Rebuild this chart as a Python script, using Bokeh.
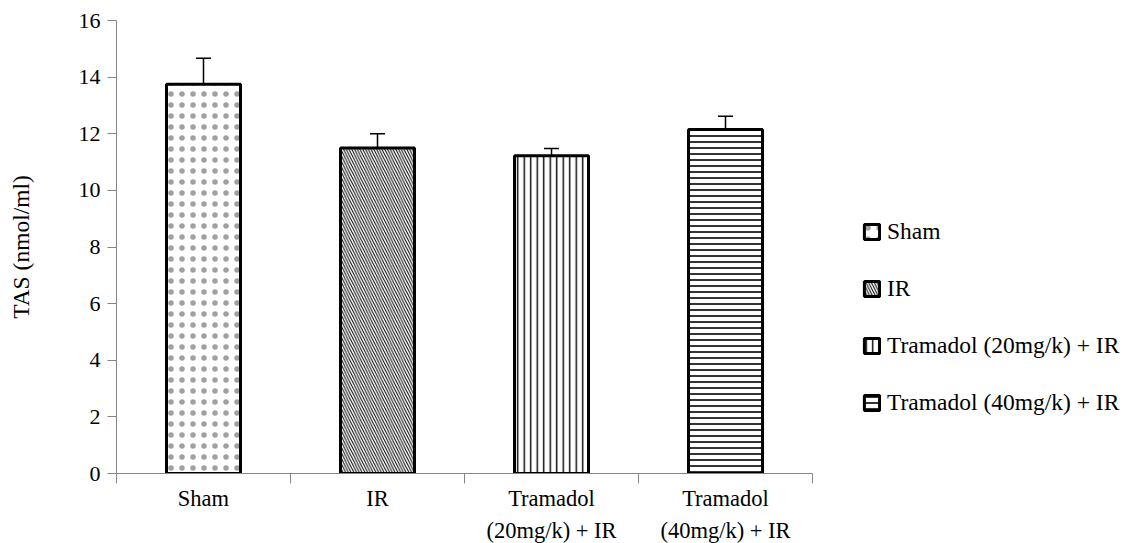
import numpy as np
from bokeh.plotting import figure
from bokeh.models import Range1d, FixedTicker, Whisker, ColumnDataSource, Legend, LegendItem, TeeHead
from bokeh.embed import file_html
from bokeh.resources import INLINE

# ---- data ----
categories = ["Sham", "IR", "Tramadol (20mg/k) + IR", "Tramadol (40mg/k) + IR"]
tick_labels = ["Sham", "IR", "Tramadol\n(20mg/k) + IR", "Tramadol\n(40mg/k) + IR"]
means = [13.75, 11.5, 11.22, 12.15]
errors = [0.92, 0.5, 0.26, 0.47]
y_ticks = [0, 2, 4, 6, 8, 10, 12, 14, 16]
y_label = "TAS (nmol/ml)"

# ---- styles ----
FONT = "Liberation Serif"
AXIS_GRAY = "#868686"
patterns = ["dot", "left_diagonal_line", "vertical_line", "horizontal_line"]
hatch_scales = [11, 5.5, 6.5, 6]
hatch_weights = [0.5, 1.0, 1.4, 1.6]
hatch_colors = ["#a0a0a0", "black", "black", "black"]

n = len(categories)
x_pos = np.arange(n) + 0.5

p = figure(frame_width=696, frame_height=453, x_range=Range1d(0, n), y_range=Range1d(0, 16),
           output_backend="svg", toolbar_location=None,
           min_border_left=116, min_border_top=20, min_border_right=0, min_border_bottom=0)
p.outline_line_color = None
p.xgrid.grid_line_color = None
p.ygrid.grid_line_color = None

items = []
for i in range(n):
    src = ColumnDataSource(dict(x=[x_pos[i]], top=[means[i]]))
    r = p.vbar(x="x", top="top", bottom=0, width=0.425, source=src,
               fill_color="white", line_color="black", line_width=3,
               hatch_pattern=patterns[i], hatch_scale=hatch_scales[i],
               hatch_weight=hatch_weights[i], hatch_color=hatch_colors[i])
    items.append(LegendItem(label=categories[i], renderers=[r]))

esrc = ColumnDataSource(dict(x=list(x_pos),
                             upper=[m + e for m, e in zip(means, errors)],
                             lower=[m - e for m, e in zip(means, errors)]))
w = Whisker(base="x", upper="upper", lower="lower", source=esrc,
            line_color="black", line_width=1.5,
            upper_head=TeeHead(size=15, line_width=1.5, line_color="black"),
            lower_head=TeeHead(size=15, line_width=1.5, line_color="black"))
p.add_layout(w)

# x axis: labels at centres, ticks at category boundaries
xa = p.xaxis[0]
xa.ticker = FixedTicker(ticks=list(x_pos), minor_ticks=list(range(n + 1)))
xa.major_label_overrides = {float(x): lab for x, lab in zip(x_pos, tick_labels)}
xa.major_tick_out = 0
xa.major_tick_in = 0
xa.minor_tick_out = 10
xa.minor_tick_in = 0
xa.minor_tick_line_color = AXIS_GRAY
xa.axis_line_color = AXIS_GRAY
xa.major_label_text_font = FONT
xa.major_label_text_font_size = "22.5px"
xa.major_label_text_color = "black"
xa.major_label_text_line_height = 1.3
xa.major_label_standoff = 2

ya = p.yaxis[0]
ya.ticker = FixedTicker(ticks=y_ticks, minor_ticks=[])
ya.axis_line_color = AXIS_GRAY
ya.major_tick_line_color = AXIS_GRAY
ya.major_tick_out = 9
ya.major_tick_in = 0
ya.major_label_standoff = 7
ya.major_label_text_font = FONT
ya.major_label_text_font_size = "22px"
ya.major_label_text_color = "black"
ya.axis_label = y_label
ya.axis_label_text_font = FONT
ya.axis_label_text_font_size = "23.5px"
ya.axis_label_text_font_style = "normal"
ya.axis_label_text_color = "black"
ya.axis_label_standoff = 42

legend = Legend(items=items, location=(50, 57), margin=0, padding=0,
                glyph_width=19, glyph_height=19, label_standoff=6,
                label_text_font=FONT, label_text_font_size="23.5px",
                label_text_color="black", spacing=30,
                border_line_color=None, background_fill_alpha=0)
p.add_layout(legend, "right")

open("out.html", "w").write(file_html(p, INLINE))
